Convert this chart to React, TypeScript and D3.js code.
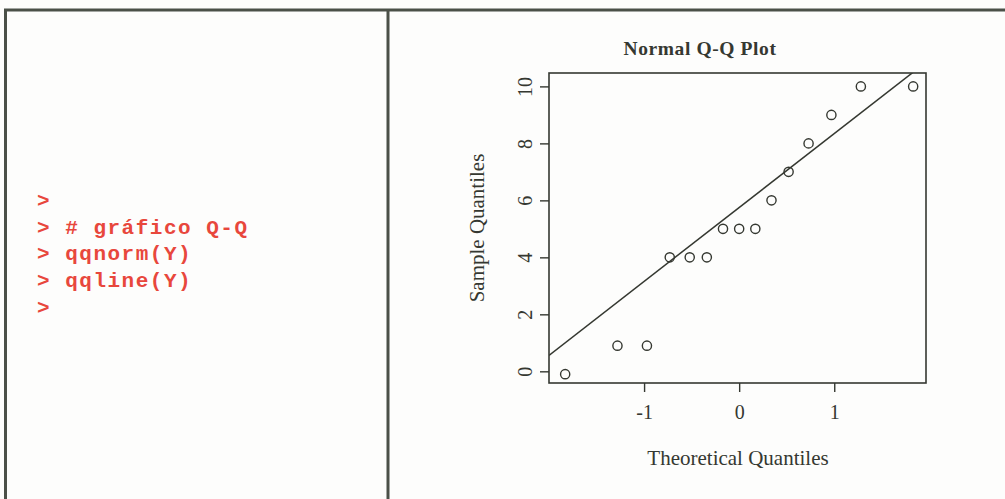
import * as d3 from "d3";
import { useRef, useEffect } from "react";

// console lines typed in R, shown on the left panel
const codeLines = [">", "> # gráfico Q-Q", "> qqnorm(Y)", "> qqline(Y)", ">"];

// points of the Q-Q plot
const theoretical = [-1.83, -1.28, -0.97, -0.73, -0.52, -0.34, -0.17, 0, 0.17, 0.34, 0.52, 0.73, 0.97, 1.28, 1.83];
const sample = [-0.1, 0.9, 0.9, 4, 4, 4, 5, 5, 5, 6, 7, 8, 9, 10, 10];
const normalQuartiles = [-0.6745, 0.6745];

const xTicks = [-1, 0, 1];
const yTicks = [0, 2, 4, 6, 8, 10];
const title = "Normal Q-Q Plot";
const xLabel = "Theoretical Quantiles";
const yLabel = "Sample Quantiles";

const width = 1005;
const height = 499;
const box = { left: 549, right: 926, top: 73, bottom: 383 };
const ink = "#353831";
const frame = "#4b5048";
const serif = "'Liberation Serif', 'Times New Roman', serif";

export default function App() {
  const gx = useRef<SVGGElement>(null);
  const gy = useRef<SVGGElement>(null);

  const x = d3.scaleLinear([-2.0, 1.965], [box.left, box.right]);
  const y = d3.scaleLinear([-0.41, 10.47], [box.bottom, box.top]);

  // qqline: through the first and third quartiles
  const sorted = [...sample].sort(d3.ascending);
  const q1 = d3.quantile(sorted, 0.25)!;
  const q3 = d3.quantile(sorted, 0.75)!;
  const slope = (q3 - q1) / (normalQuartiles[1] - normalQuartiles[0]);
  const intercept = q1 - slope * normalQuartiles[0];
  const [x0, x1] = x.domain();
  const line = d3.line<number>(
    (d) => x(d),
    (d) => y(intercept + slope * d)
  );

  useEffect(() => {
    const g = d3.select(gx.current!);
    g.call(d3.axisBottom(x).tickValues(xTicks).tickSize(9).tickPadding(13).tickFormat((d) => String(d)));
    g.select(".domain").remove();
    g.selectAll("line").attr("stroke", ink).attr("stroke-width", 1.4);
    g.selectAll("text").attr("fill", ink).attr("font-size", 20).attr("font-family", serif);
    g.attr("font-family", null).attr("font-size", null);
  }, [x]);

  useEffect(() => {
    const g = d3.select(gy.current!);
    g.call(d3.axisLeft(y).tickValues(yTicks).tickSize(9).tickFormat((d) => String(d)));
    g.select(".domain").remove();
    g.selectAll("line").attr("stroke", ink).attr("stroke-width", 1.4);
    g.selectAll("text")
      .attr("x", null)
      .attr("dy", null)
      .attr("text-anchor", "middle")
      .attr("transform", "translate(-17,0) rotate(-90)")
      .attr("fill", ink)
      .attr("font-size", 20)
      .attr("font-family", serif);
    g.attr("font-family", null).attr("font-size", null);
  }, [y]);

  return (
    <svg
      width={width}
      height={height}
      style={{ position: "absolute", left: 0, top: 0, background: "#fdfdfc" }}
    >
      <defs>
        <clipPath id="plotclip">
          <rect x={box.left} y={box.top} width={box.right - box.left} height={box.bottom - box.top} />
        </clipPath>
      </defs>

      {/* page frame */}
      <g stroke={frame} strokeWidth={3} fill="none">
        <line x1={4} x2={width} y1={10} y2={10} />
        <line x1={5.5} x2={5.5} y1={9} y2={height} />
        <line x1={388} x2={388} y1={9} y2={height} />
      </g>

      {/* R console text */}
      <g fill="#e8473c" fontFamily="'Liberation Mono', 'Courier New', monospace" fontWeight="bold" fontSize={21} letterSpacing={1.5}>
        {codeLines.map((t, i) => (
          <text key={i} x={37} y={207 + i * 26.7} xmlSpace="preserve" style={{ whiteSpace: "pre" }}>
            {t}
          </text>
        ))}
      </g>

      {/* plot */}
      <text x={700} y={55} textAnchor="middle" fontFamily={serif} fontWeight="bold" fontSize={19.5} letterSpacing={0.6} fill={ink}>
        {title}
      </text>
      <g ref={gx} transform={`translate(0,${box.bottom})`} />
      <g ref={gy} transform={`translate(${box.left},0)`} />
      <rect
        x={box.left}
        y={box.top}
        width={box.right - box.left}
        height={box.bottom - box.top}
        fill="none"
        stroke={ink}
        strokeWidth={1.6}
      />
      <path d={line([x0, x1]) ?? ""} clipPath="url(#plotclip)" fill="none" stroke={ink} strokeWidth={1.5} />
      <g fill="none" stroke={ink} strokeWidth={1.4}>
        {sample.map((v, i) => (
          <circle key={i} cx={x(theoretical[i])} cy={y(v)} r={4.6} />
        ))}
      </g>
      <text x={738} y={465} textAnchor="middle" fontFamily={serif} fontSize={21} fill={ink}>
        {xLabel}
      </text>
      <text
        transform={`translate(484,228) rotate(-90)`}
        textAnchor="middle"
        fontFamily={serif}
        fontSize={21}
        fill={ink}
      >
        {yLabel}
      </text>
    </svg>
  );
}
